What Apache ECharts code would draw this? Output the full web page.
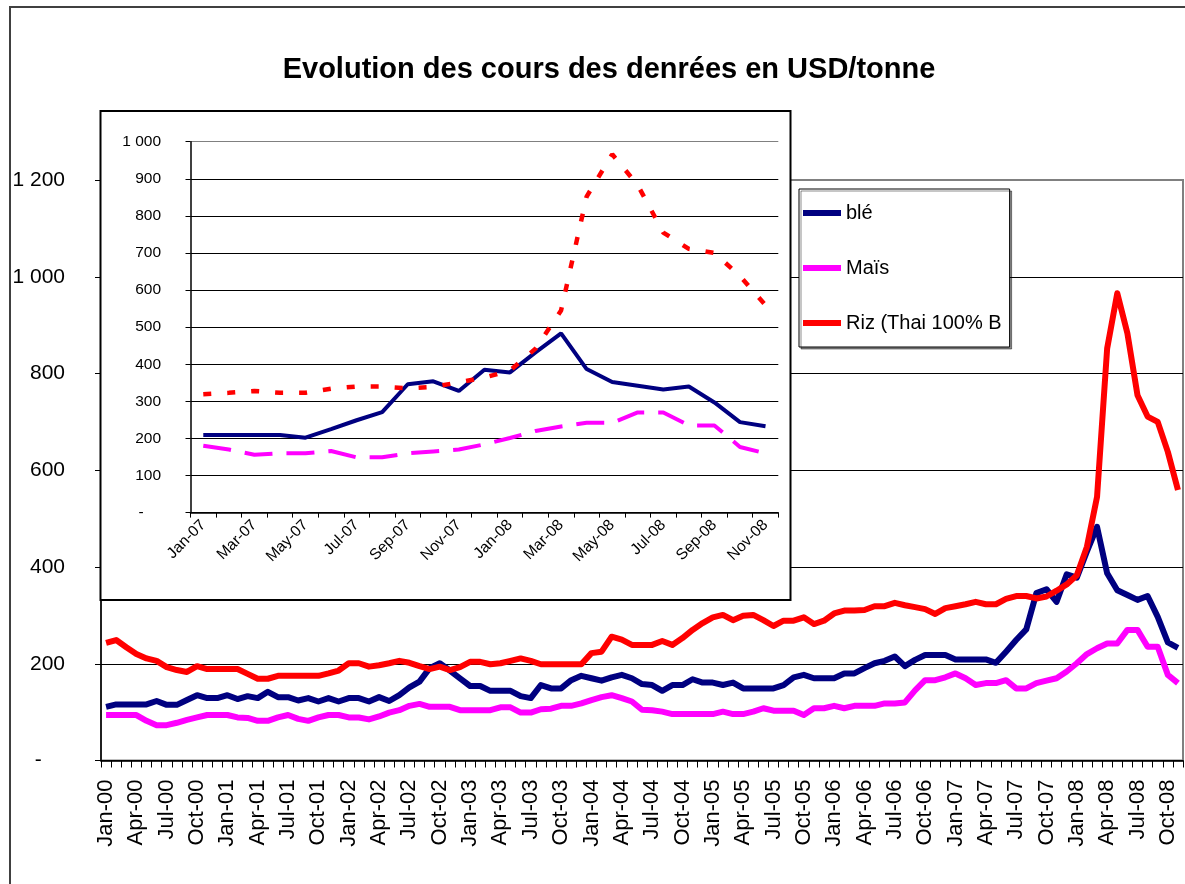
<!DOCTYPE html>
<html>
<head>
<meta charset="utf-8">
<script src="https://cdn.jsdelivr.net/npm/echarts@6/dist/echarts.min.js"></script>
<style>
html,body{margin:0;padding:0;background:#fff;}
#chart{width:1185px;height:884px;}
</style>
</head>
<body>
<div id="chart"></div>
<script>
// ---- data ----
const MONTHS = ['Jan','Feb','Mar','Apr','May','Jun','Jul','Aug','Sep','Oct','Nov','Dec'];
const YEARS = ['00','01','02','03','04','05','06','07','08'];
const LAST_MONTH_COUNT = 107; // Jan-00 .. Nov-08
const INSET_START = 84;       // Jan-07

const TITLE = 'Evolution des cours des denrées en USD/tonne';
const SERIES_NAMES = ['blé', 'Maïs', 'Riz (Thai 100% B'];

const ble = [111,116,116,116,116,123,115,115,125,135,129,129,
             135,127,133,129,142,131,131,124,129,122,129,122,
             129,129,122,131,123,135,151,163,191,201,186,170,
             154,154,144,144,144,133,129,156,149,149,166,175,
             170,165,172,177,170,158,156,144,156,156,168,161,
             161,156,161,149,149,149,149,156,172,177,170,170,
             170,180,180,191,201,206,215,195,208,218,218,218,
             209,209,209,209,202,225,249,271,346,354,328,385,
             378,432,483,387,352,342,332,340,297,244,233];

const mais = [94,94,94,94,82,73,73,78,84,89,94,94,
              94,89,88,82,82,89,94,86,82,89,94,94,
              89,89,85,91,99,104,113,117,111,111,111,104,
              104,104,104,110,110,99,99,106,107,113,113,118,
              125,131,135,129,122,105,104,101,96,96,96,96,
              96,101,96,96,101,108,103,103,103,94,108,108,
              113,108,113,113,113,118,118,120,145,166,166,172,
              180,170,156,160,160,166,149,149,160,165,170,184,
              201,220,232,242,242,270,270,235,235,177,160];

const riz = [243,249,234,220,211,206,193,187,183,195,189,189,
             189,189,179,169,169,175,175,175,175,175,180,186,
             201,201,194,197,201,206,202,195,189,194,187,193,
             204,204,199,201,206,211,206,199,199,199,199,199,
             222,225,256,250,239,239,239,247,239,253,270,284,
             296,301,290,299,301,290,278,289,289,296,282,289,
             304,310,310,311,319,319,326,321,317,313,303,315,
             319,323,328,323,323,334,340,340,335,339,351,364,
             383,442,545,852,966,883,755,711,700,638,559];

const categories = [];
for (const y of YEARS) for (const m of MONTHS) {
  if (categories.length < LAST_MONTH_COUNT) categories.push(m + '-' + y);
}
const insetCategories = categories.slice(INSET_START);

// ---- styling ----
const ARIAL = "'Liberation Sans',Arial,sans-serif";
const C_BLE = '#000080', C_MAIS = '#FF00FF', C_RIZ = '#FF0000';

function fmt(v) {
  if (v === 0) return '-\u2007\u2007';
  return String(v).replace(/\B(?=(\d{3})+(?!\d))/g, ' ');
}

const chart = echarts.init(document.getElementById('chart'), null, {renderer: 'canvas'});
const option = {
  animation: false,
  backgroundColor: '#fff',
  title: {
    text: TITLE, left: 604, top: 50, textAlign: 'center',
    textStyle: {fontFamily: ARIAL, fontWeight: 'bold', fontSize: 29, color: '#000'}
  },
  legend: {
    data: SERIES_NAMES, orient: 'vertical', left: 799, top: 189,
    backgroundColor: '#fff', borderColor: '#000', borderWidth: 1,
    shadowColor: 'rgba(0,0,0,0.45)', shadowOffsetX: 2, shadowOffsetY: 2, shadowBlur: 0,
    padding: [14, 8, 14, 4],
    icon: 'rect', itemWidth: 38, itemHeight: 6, itemGap: 35,
    textStyle: {fontFamily: ARIAL, fontSize: 20, color: '#000'},
    z: 8
  },
  grid: [
    {left: 101, right: 2, top: 180, bottom: 123.5, show: true, borderColor: '#808080', borderWidth: 2, containLabel: false},
    {left: 190.5, right: 406.7, top: 141.7, bottom: 371.4, containLabel: false, z: 5}
  ],
  xAxis: [
    {
      type: 'category', gridIndex: 0, data: categories, boundaryGap: true,
      axisLine: {lineStyle: {color: '#000', width: 1.5}},
      axisTick: {show: true, interval: 0, length: 7, lineStyle: {color: '#000'}},
      axisLabel: {interval: 2, rotate: 90, margin: 19, fontSize: 22, fontFamily: ARIAL, color: '#000'},
      splitLine: {show: false}
    },
    {
      type: 'category', gridIndex: 1, data: insetCategories, boundaryGap: true, z: 6,
      axisLine: {lineStyle: {color: '#000', width: 1.5}},
      axisTick: {show: true, interval: 0, length: 5, lineStyle: {color: '#000'}},
      axisLabel: {interval: 1, rotate: 45, margin: 10, fontSize: 15.5, fontFamily: ARIAL, color: '#000'},
      splitLine: {show: false}
    }
  ],
  yAxis: [
    {
      type: 'value', gridIndex: 0, min: 0, max: 1200, interval: 200,
      axisLine: {show: true, lineStyle: {color: '#000', width: 1.5}},
      axisTick: {show: true, length: 6, lineStyle: {color: '#000'}},
      axisLabel: {formatter: fmt, margin: 36, fontSize: 21, fontFamily: ARIAL, color: '#000'},
      splitLine: {show: true, lineStyle: {color: ['#000','#000','#000','#000','#000','#000','#808080'], width: 1.2}}
    },
    {
      type: 'value', gridIndex: 1, min: 0, max: 1000, interval: 100, z: 6,
      axisLine: {show: true, lineStyle: {color: '#000', width: 1.5}},
      axisTick: {show: true, length: 5, lineStyle: {color: '#000'}},
      axisLabel: {formatter: fmt, margin: 29.5, fontSize: 15.5, fontFamily: ARIAL, color: '#000'},
      splitLine: {show: true, lineStyle: {color: ['#000','#000','#000','#000','#000','#000','#000','#000','#000','#000','#808080'], width: 1.2}}
    }
  ],
  graphic: [
    {type: 'rect', z: 0, silent: true, shape: {x: 10, y: 7, width: 1200, height: 900},
     style: {fill: 'none', stroke: '#404040', lineWidth: 2}},
    {type: 'rect', z: 3, silent: true, shape: {x: 100.5, y: 111, width: 690, height: 489},
     style: {fill: '#fff', stroke: '#000', lineWidth: 2}}
  ],
  series: [
    {name: SERIES_NAMES[0], type: 'line', xAxisIndex: 0, yAxisIndex: 0, data: ble, symbol: 'none', z: 2,
     color: C_BLE, lineStyle: {color: C_BLE, width: 6, join: 'round'}},
    {name: SERIES_NAMES[1], type: 'line', xAxisIndex: 0, yAxisIndex: 0, data: mais, symbol: 'none', z: 2,
     color: C_MAIS, lineStyle: {color: C_MAIS, width: 6, join: 'round'}},
    {name: SERIES_NAMES[2], type: 'line', xAxisIndex: 0, yAxisIndex: 0, data: riz, symbol: 'none', z: 2,
     color: C_RIZ, lineStyle: {color: C_RIZ, width: 6, join: 'round'}},
    {name: 'blé 2007-2008', type: 'line', xAxisIndex: 1, yAxisIndex: 1, data: ble.slice(INSET_START), symbol: 'none', z: 7,
     color: C_BLE, lineStyle: {color: C_BLE, width: 4, type: 'solid'}},
    {name: 'Maïs 2007-2008', type: 'line', xAxisIndex: 1, yAxisIndex: 1, data: mais.slice(INSET_START), symbol: 'none', z: 7,
     color: C_MAIS, lineStyle: {color: C_MAIS, width: 4, type: [28, 14]}},
    {name: 'Riz 2007-2008', type: 'line', xAxisIndex: 1, yAxisIndex: 1, data: riz.slice(INSET_START), symbol: 'none', z: 7,
     color: C_RIZ, lineStyle: {color: C_RIZ, width: 4.5, type: [8, 16]}}
  ]
};
chart.setOption(option);
</script>
</body>
</html>
